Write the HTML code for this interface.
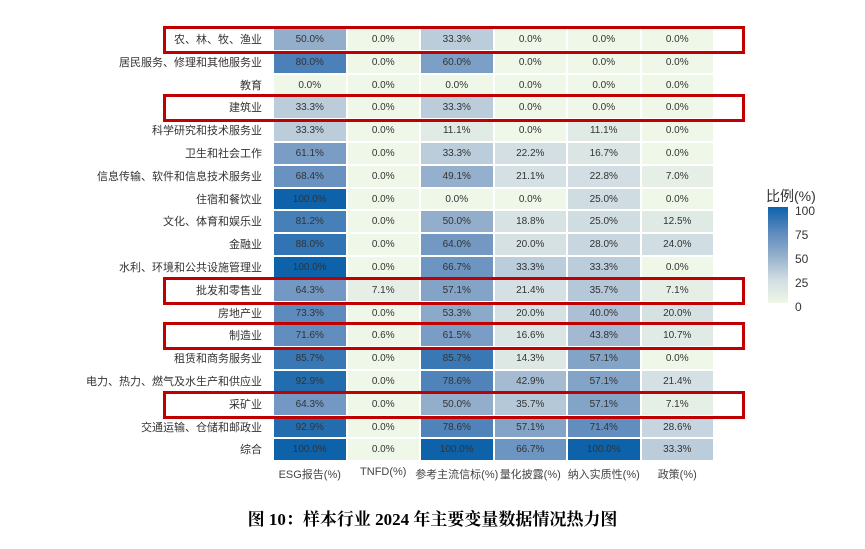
<!DOCTYPE html>
<html><head><meta charset="utf-8"><style>
body{margin:0;width:865px;height:549px;background:#fff;position:relative;overflow:hidden;font-family:"Liberation Sans","Noto Sans CJK SC",sans-serif}
.c{position:absolute;text-align:center;font-size:10px;color:#333;box-sizing:border-box;border:1px solid #fff;font-family:"Liberation Sans",sans-serif}
.l{position:absolute;right:603px;font-size:11px;color:#333;white-space:nowrap}
.x{position:absolute;top:466px;font-size:11px;color:#444;text-align:center;width:90px}
.box{position:absolute;left:163px;width:582px;border:3px solid #c00000;box-sizing:border-box}
</style></head><body>
<div id="g"></div>
<div style="position:absolute;left:766px;top:186px;font-size:14px;color:#333;font-family:'Liberation Sans','Noto Sans CJK SC',sans-serif">比例(%)</div>
<div style="position:absolute;left:768px;top:207px;width:20px;height:96px;background:linear-gradient(to top,#eff7e8,#cfdce2 25%,#93aecb 50%,#5a88bd 75%,#0d62aa)"></div>
<div style="position:absolute;left:795px;top:199px;font-size:12px;color:#333;line-height:24px">100<br>75<br>50<br>25<br>0</div>
<div style="position:absolute;left:0;width:865px;top:505px;text-align:center;font-family:'Liberation Serif','Noto Serif CJK SC',serif;font-weight:bold;font-size:17px;color:#000">图 10：样本行业 2024 年主要变量数据情况热力图</div>
<script>
var rows=[["农、林、牧、渔业",[50,0,33.3,0,0,0]],["居民服务、修理和其他服务业",[80,0,60,0,0,0]],["教育",[0,0,0,0,0,0]],["建筑业",[33.3,0,33.3,0,0,0]],["科学研究和技术服务业",[33.3,0,11.1,0,11.1,0]],["卫生和社会工作",[61.1,0,33.3,22.2,16.7,0]],["信息传输、软件和信息技术服务业",[68.4,0,49.1,21.1,22.8,7]],["住宿和餐饮业",[100,0,0,0,25,0]],["文化、体育和娱乐业",[81.2,0,50,18.8,25,12.5]],["金融业",[88,0,64,20,28,24]],["水利、环境和公共设施管理业",[100,0,66.7,33.3,33.3,0]],["批发和零售业",[64.3,7.1,57.1,21.4,35.7,7.1]],["房地产业",[73.3,0,53.3,20,40,20]],["制造业",[71.6,0.6,61.5,16.6,43.8,10.7]],["租赁和商务服务业",[85.7,0,85.7,14.3,57.1,0]],["电力、热力、燃气及水生产和供应业",[92.9,0,78.6,42.9,57.1,21.4]],["采矿业",[64.3,0,50,35.7,57.1,7.1]],["交通运输、仓储和邮政业",[92.9,0,78.6,57.1,71.4,28.6]],["综合",[100,0,100,66.7,100,33.3]]];
var stops=[[0,[239,247,232]],[25,[207,220,226]],[50,[147,174,203]],[75,[90,136,189]],[100,[13,98,170]]];
function col(v){for(var i=0;i<4;i++){var a=stops[i],b=stops[i+1];if(v<=b[0]){var t=(v-a[0])/(b[0]-a[0]);return 'rgb('+a[1].map((c,k)=>Math.round(c+(b[1][k]-c)*t)).join(',')+')';}}}
var h='',L=273,T=28,W=73.5,H=22.8;
rows.forEach(function(r,i){var y=T+i*H;h+='<div class="l" style="top:'+(y+1)+'px;height:'+H+'px;line-height:'+H+'px">'+r[0]+'</div>';
r[1].forEach(function(v,j){h+='<div class="c" style="left:'+(L+j*W)+'px;top:'+y+'px;width:'+W+'px;height:'+H+'px;line-height:'+(H)+'px;background:'+col(v)+'">'+v.toFixed(1)+'%</div>';});});
["ESG报告(%)","TNFD(%)","参考主流信标(%)","量化披露(%)","纳入实质性(%)","政策(%)"].forEach(function(s,j){h+='<div class="x" style="left:'+(L+j*W+W/2-45)+'px">'+s+'</div>';});
[0,3,11,13,16].forEach(function(i){h+='<div class="box" style="top:'+(T+i*H-2)+'px;height:'+(H+5)+'px"></div>';});
document.getElementById('g').innerHTML=h;
</script>
</body></html>
